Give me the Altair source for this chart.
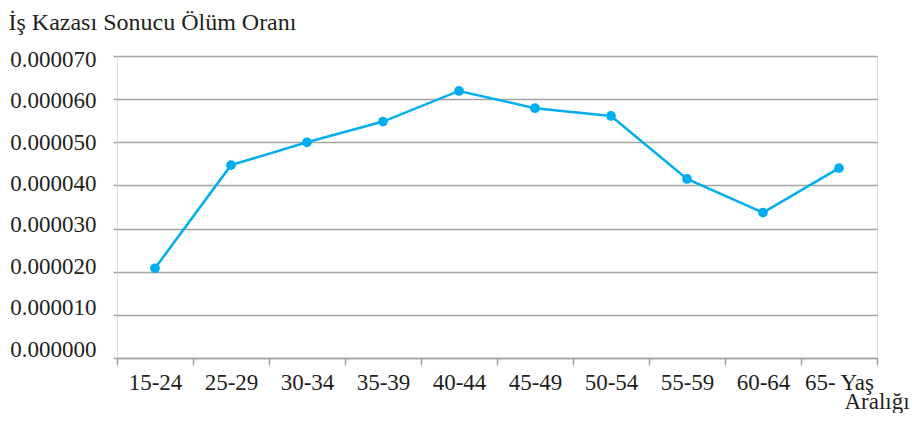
import altair as alt
import pandas as pd

categories = ["15-24", "25-29", "30-34", "35-39", "40-44", "45-49", "50-54", "55-59", "60-64", "65-"]
values = [0.0000208, 0.0000447, 0.0000500, 0.0000548, 0.0000619, 0.0000579, 0.0000561, 0.0000415, 0.0000337, 0.0000440]
y_ticks = [0.0, 0.00001, 0.00002, 0.00003, 0.00004, 0.00005, 0.00006, 0.00007]

df = pd.DataFrame({"yas": categories, "oran": values})

FONT = "Liberation Serif"
TXT = "#231f20"
GRID = "#a3a3a5"
BLUE = "#00aeef"
FS = 23

x_enc = alt.X(
    "yas:N",
    sort=categories,
    bandPosition=0.5,
    scale=alt.Scale(type="band", paddingInner=0, paddingOuter=0),
    axis=alt.Axis(
        title="Aralığı",
        titleFont=FONT, titleFontSize=FS, titleFontWeight="normal", titleColor=TXT,
        titleAlign="left", titleAnchor="start", titleBaseline="alphabetic",
        titleX=727, titleY=50, titleAngle=0,
        labelFont=FONT, labelFontSize=FS, labelColor=TXT,
        labelAngle=0, labelPadding=6, labelBaseline="top",
        labelExpr="datum.value == '65-' ? '65- Yaş' : datum.value",
        tickBand="extent", tickSize=7, tickColor=GRID, tickWidth=1.5,
        domainColor=GRID, domainWidth=1.5,
        grid=False,
    ),
)

y_enc = alt.Y(
    "oran:Q",
    scale=alt.Scale(domain=[0, 0.00007], nice=False, zero=True),
    axis=alt.Axis(
        values=y_ticks,
        format=".6f",
        title="İş Kazası Sonucu Ölüm Oranı",
        titleFont=FONT, titleFontSize=24, titleFontWeight="normal", titleColor=TXT,
        titleAngle=0, titleAlign="left", titleBaseline="alphabetic",
        titleX=-109, titleY=-27,
        labelFont=FONT, labelFontSize=FS, labelColor=TXT,
        labelPadding=17,
        labelOffset={"expr": "3.5 - 12.5 * (0.00007 - datum.value) / 0.00007"},
        tickSize=4, tickColor=GRID, tickWidth=1.5,
        domain=False,
        grid=True, gridColor=GRID, gridWidth=1.5,
    ),
)

base = alt.Chart(df).encode(x=x_enc, y=y_enc)
line = base.mark_line(color=BLUE, strokeWidth=2.5)
pts = base.mark_point(filled=True, color=BLUE, size=95, opacity=1)

chart = (
    alt.layer(line, pts)
    .properties(
        width=760,
        height=302,
        autosize=alt.AutoSizeParams(type="none"),
        padding={"left": 109, "top": 48, "right": 33, "bottom": 55},
    )
    .configure_view(fill="#e6e7e9", stroke=None)
    .configure(background="white")
)

chart.save("out.html", embed_options={"renderer": "svg", "actions": False})
